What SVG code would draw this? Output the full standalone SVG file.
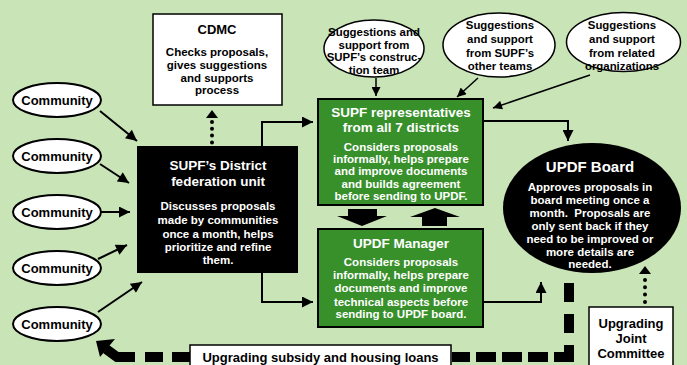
<svg xmlns="http://www.w3.org/2000/svg" width="687" height="365" viewBox="0 0 687 365">
  <defs>
    <style>
      text { font-family: "Liberation Sans", Arial, sans-serif; font-weight: bold; text-anchor: middle; }
      .comm { font-size: 13px; fill: #000; }
      .sugg { font-size: 11.4px; fill: #000; }
      .ttlW { font-size: 13.5px; fill: #fff; }
      .bodyW { font-size: 11.5px; fill: #fff; }
      .bodyK { font-size: 11.5px; fill: #000; }
      .lblK { font-size: 13px; fill: #000; }
      .oval { fill: #fff; stroke: #000; stroke-width: 2; }
      .oval-s { fill: #fff; stroke: #000; stroke-width: 1.5; }
      .card { fill: #fff; stroke: #000; stroke-width: 1.5; }
      .green { fill: #38902b; stroke: #000; stroke-width: 2; }
      .link { fill: none; stroke: #000; stroke-width: 2; marker-end: url(#head); }
      .link-s { fill: none; stroke: #000; stroke-width: 1.5; marker-end: url(#head-s); }
      .dots { fill: none; stroke: #000; stroke-width: 4; stroke-linecap: round; }
      .thick { fill: none; stroke: #000; stroke-width: 10; }
    </style>
    <marker id="head" viewBox="0 0 10 10" refX="10" refY="5" markerWidth="13" markerHeight="11" markerUnits="userSpaceOnUse" orient="auto">
      <path d="M0,0 L10,5 L0,10 z" fill="#000"/>
    </marker>
    <marker id="head-s" viewBox="0 0 10 10" refX="10" refY="5" markerWidth="11" markerHeight="9" markerUnits="userSpaceOnUse" orient="auto">
      <path d="M0,0 L10,5 L0,10 z" fill="#000"/>
    </marker>
  </defs>

  <!-- background -->
  <rect x="0" y="0" width="687" height="365" fill="#c9e4b6"/>

  <!-- connectors -->
  <g id="connectors">
    <!-- communities to district unit -->
    <path class="link" d="M100,111 L137,141"/>
    <path class="link" d="M100,164 L129,183"/>
    <path class="link" d="M101,212 L130,212"/>
    <path class="link" d="M98,259 L127,245"/>
    <path class="link" d="M98,312 L142,282"/>
    <!-- district unit to representatives and manager -->
    <path class="link" d="M262,146 V122 H313"/>
    <path class="link" d="M262,273 V302 H313"/>
    <!-- representatives / manager to board -->
    <path class="link" d="M483,121 H568 V141"/>
    <path class="link" d="M483,302 H541 V282"/>
    <!-- suggestions into representatives -->
    <path class="link-s" d="M376,78 V96"/>
    <path class="link-s" d="M478,78 L457,97"/>
    <path class="link-s" d="M590,75 L493,108"/>
    <!-- dotted links -->
    <path class="dots" d="M212,122 V143" stroke-dasharray="0 6.8"/>
    <path d="M206,118 L212,110 L218,118 z" fill="#000"/>
    <path class="dots" d="M645,280 V302" stroke-dasharray="0 7.3"/>
    <path d="M639,274 L645,266 L651,274 z" fill="#000"/>
    <!-- two-way block arrows between representatives and manager -->
    <polygon points="348,209 377,209 377,216 387,216 362,226 337,216 348,216" fill="#000"/>
    <polygon points="435,208 460,217 447,217 447,226 422,226 422,217 410,217" fill="#000"/>
    <!-- subsidy and loans flow back to communities -->
    <path class="thick" d="M569,283 V352" stroke-dasharray="19 12"/>
    <path class="thick" d="M574,357 H452" stroke-dasharray="20 6"/>
    <path class="thick" d="M190,357 H143" stroke-dasharray="18 9"/>
    <path class="thick" d="M135,357 H117 L106,349"/>
    <polygon points="96,341 115,339 100,357" fill="#000"/>
  </g>

  <!-- community nodes -->
  <g id="community-1">
    <ellipse class="oval" cx="57" cy="100" rx="44" ry="17"/>
    <text class="comm" x="57" y="105">Community</text>
  </g>
  <g id="community-2">
    <ellipse class="oval" cx="57" cy="156" rx="44" ry="17"/>
    <text class="comm" x="57" y="161">Community</text>
  </g>
  <g id="community-3">
    <ellipse class="oval" cx="57" cy="212" rx="44" ry="17"/>
    <text class="comm" x="57" y="217">Community</text>
  </g>
  <g id="community-4">
    <ellipse class="oval" cx="57" cy="268" rx="44" ry="17"/>
    <text class="comm" x="57" y="273">Community</text>
  </g>
  <g id="community-5">
    <ellipse class="oval" cx="57" cy="324" rx="44" ry="17"/>
    <text class="comm" x="57" y="329">Community</text>
  </g>

  <!-- CDMC -->
  <g id="cdmc">
    <rect class="card" x="153" y="14" width="129" height="91"/>
    <text class="lblK" x="217" y="34">CDMC</text>
    <text class="bodyK" x="217" y="56">Checks proposals,</text>
    <text class="bodyK" x="217" y="68.5">gives suggestions</text>
    <text class="bodyK" x="217" y="81.5">and supports</text>
    <text class="bodyK" x="217" y="94">process</text>
  </g>

  <!-- district federation unit -->
  <g id="district-unit">
    <rect x="137" y="146" width="161" height="127" fill="#000"/>
    <text class="ttlW" x="218" y="170">SUPF’s District</text>
    <text class="ttlW" x="218" y="186">federation unit</text>
    <text class="bodyW" x="218" y="210">Discusses proposals</text>
    <text class="bodyW" x="218" y="224">made by communities</text>
    <text class="bodyW" x="218" y="237.5">once a month, helps</text>
    <text class="bodyW" x="218" y="251">prioritize and refine</text>
    <text class="bodyW" x="218" y="264">them.</text>
  </g>

  <!-- suggestion sources -->
  <g id="construction-team">
    <ellipse class="oval-s" cx="374" cy="48.5" rx="50" ry="28.5"/>
    <text class="sugg" x="374" y="36">Suggestions and</text>
    <text class="sugg" x="374" y="48.5">support from</text>
    <text class="sugg" x="374" y="61">SUPF’s construc-</text>
    <text class="sugg" x="374" y="73.5">tion team</text>
  </g>
  <g id="other-teams">
    <ellipse class="oval-s" cx="499" cy="45" rx="56" ry="32"/>
    <text class="sugg" x="500" y="29">Suggestions</text>
    <text class="sugg" x="500" y="43">and support</text>
    <text class="sugg" x="500" y="57">from SUPF’s</text>
    <text class="sugg" x="500" y="70">other teams</text>
  </g>
  <g id="related-orgs">
    <ellipse class="oval-s" cx="623.5" cy="42" rx="57" ry="29.5"/>
    <text class="sugg" x="622" y="29">Suggestions</text>
    <text class="sugg" x="622" y="43">and support</text>
    <text class="sugg" x="622" y="57">from related</text>
    <text class="sugg" x="622" y="70">organizations</text>
  </g>

  <!-- SUPF representatives -->
  <g id="supf-representatives">
    <rect class="green" x="318" y="99" width="165" height="106"/>
    <text class="ttlW" x="401" y="117">SUPF representatives</text>
    <text class="ttlW" x="401" y="132">from all 7 districts</text>
    <text class="bodyW" x="401" y="151">Considers proposals</text>
    <text class="bodyW" x="401" y="163">informally, helps prepare</text>
    <text class="bodyW" x="401" y="175">and improve documents</text>
    <text class="bodyW" x="401" y="187.5">and builds agreement</text>
    <text class="bodyW" x="401" y="199.5">before sending to UPDF.</text>
  </g>

  <!-- UPDF Manager -->
  <g id="updf-manager">
    <rect class="green" x="318" y="229" width="165" height="98"/>
    <text class="ttlW" x="401" y="248">UPDF Manager</text>
    <text class="bodyW" x="401" y="266">Considers proposals</text>
    <text class="bodyW" x="401" y="279">informally, helps prepare</text>
    <text class="bodyW" x="401" y="292">documents and improve</text>
    <text class="bodyW" x="401" y="305.5">technical aspects before</text>
    <text class="bodyW" x="401" y="318">sending to UPDF board.</text>
  </g>

  <!-- UPDF Board -->
  <g id="updf-board">
    <ellipse cx="592" cy="208" rx="89" ry="65" fill="#000"/>
    <text x="590" y="171.5" font-size="15" fill="#fff">UPDF Board</text>
    <text class="bodyW" x="590" y="190.5">Approves proposals in</text>
    <text class="bodyW" x="590" y="203.5">board meeting once a</text>
    <text class="bodyW" x="590" y="217" xml:space="preserve">month.  Proposals are</text>
    <text class="bodyW" x="590" y="230">only sent back if they</text>
    <text class="bodyW" x="590" y="243">need to be improved or</text>
    <text class="bodyW" x="590" y="256">more details are</text>
    <text class="bodyW" x="590" y="268">needed.</text>
  </g>

  <!-- Upgrading Joint Committee -->
  <g id="joint-committee">
    <rect class="card" x="589" y="307" width="84" height="62"/>
    <text class="lblK" x="631" y="328">Upgrading</text>
    <text class="lblK" x="631" y="343">Joint</text>
    <text class="lblK" x="631" y="358">Committee</text>
  </g>

  <!-- subsidy label on the return flow -->
  <g id="subsidy-label">
    <rect class="card" x="190" y="345" width="261" height="24"/>
    <text class="lblK" x="320.5" y="362">Upgrading subsidy and housing loans</text>
  </g>
</svg>
